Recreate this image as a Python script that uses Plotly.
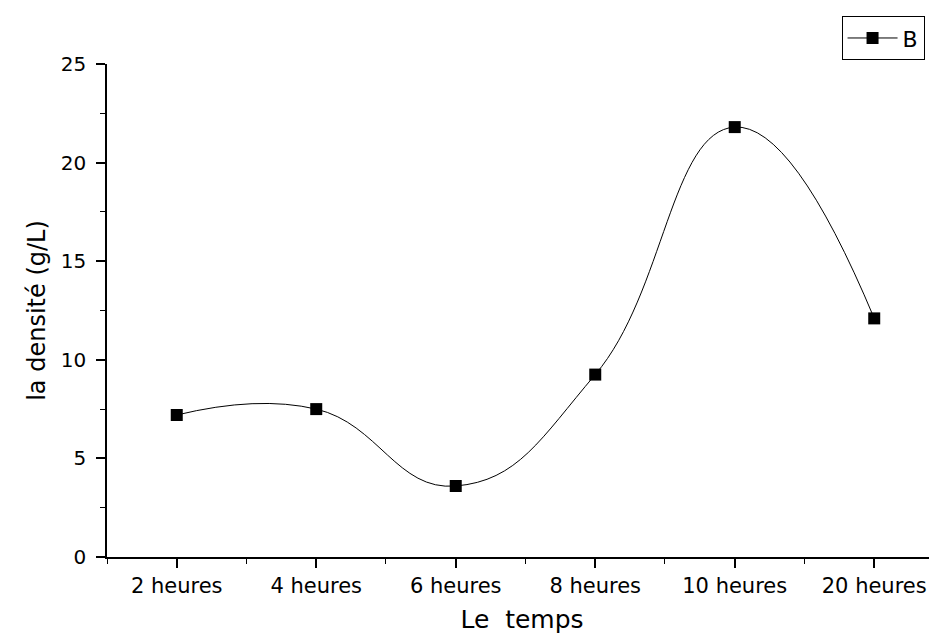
import plotly.graph_objects as go

categories = ["2 heures", "4 heures", "6 heures", "8 heures", "10 heures", "20 heures"]
densite = [7.2, 7.5, 3.6, 9.25, 21.8, 12.1]
y_ticks = [0, 5, 10, 15, 20, 25]

x_idx = list(range(len(categories)))
FONT = "DejaVu Sans, Liberation Sans, Arial, sans-serif"

fig = go.Figure()
fig.add_trace(go.Scatter(
    x=x_idx, y=densite, name="B",
    mode="lines+markers",
    line=dict(color="black", width=1, shape="spline", smoothing=1.3),
    marker=dict(symbol="square", size=12, color="black"),
))

fig.update_layout(
    width=937, height=635,
    margin=dict(l=99, r=8, t=56, b=86),
    paper_bgcolor="white", plot_bgcolor="white",
    font=dict(family=FONT, color="black"),
    showlegend=True,
    legend=dict(x=0.985, y=1.097, xanchor="right", yanchor="top",
                bordercolor="black", borderwidth=1, bgcolor="white",
                font=dict(size=22, family=FONT),
                itemwidth=50, tracegroupgap=0),
)
fig.update_xaxes(
    range=[-0.5, 5.45],
    tickmode="array", tickvals=x_idx, ticktext=categories,
    ticks="outside", ticklen=9, tickwidth=1.5, tickcolor="black",
    showline=True, linecolor="black", linewidth=1.5,
    showgrid=False, zeroline=False,
    tickfont=dict(size=21),
    minor=dict(tickmode="array", tickvals=[i - 0.5 for i in range(7)],
               ticks="outside", ticklen=5, tickwidth=1.2, tickcolor="black"),
    title=dict(text="Le  temps", font=dict(size=25), standoff=14),
)
fig.update_yaxes(
    range=[0, 25],
    tickmode="array", tickvals=y_ticks,
    ticks="outside", ticklen=9, tickwidth=1.5, tickcolor="black",
    showline=True, linecolor="black", linewidth=1.5,
    showgrid=False, zeroline=False,
    tickfont=dict(size=20), ticklabelstandoff=6,
    minor=dict(dtick=2.5, ticks="outside", ticklen=5, tickwidth=1.2, tickcolor="black"),
    title=dict(text="la densité (g/L)", font=dict(size=24), standoff=8),
)

fig.write_html("out.html")
